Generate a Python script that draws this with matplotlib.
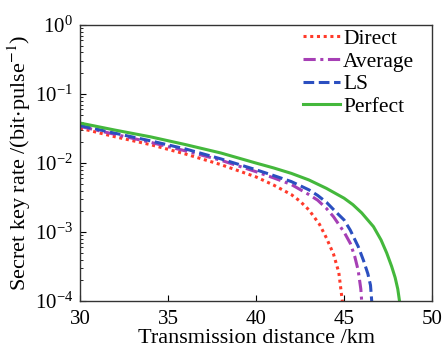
import matplotlib
matplotlib.use("Agg")
import matplotlib.pyplot as plt
import numpy as np

plt.rcParams['font.family'] = ['Liberation Serif', 'DejaVu Serif']
plt.rcParams['mathtext.fontset'] = 'stix'

direct_x = [30, 32, 34, 36, 38, 40, 41, 42, 42.5, 43, 43.6, 44, 44.4, 44.7, 44.9]
direct_y = [0.032, 0.024, 0.0185, 0.0135, 0.0095, 0.0063, 0.0048, 0.0035, 0.0028, 0.0021,
            0.0013, 0.00082, 0.00048, 0.00026, 0.0001]

average_x = [30, 32, 34, 36, 38, 40, 41, 42, 43, 43.5, 44, 44.4, 45, 45.35, 45.6, 45.8, 45.95, 46.0]
average_y = [0.034, 0.026, 0.020, 0.015, 0.011, 0.0075, 0.0061, 0.0049, 0.0035, 0.0029,
             0.0022, 0.00167, 0.0010, 0.00069, 0.00045, 0.00028, 0.00015, 0.0001]

ls_x = [30, 32, 34, 36, 38, 40, 41, 42, 43, 43.5, 44, 44.5, 45, 45.35, 45.8, 46.1, 46.35, 46.5, 46.57]
ls_y = [0.035, 0.027, 0.021, 0.016, 0.0115, 0.0080, 0.0066, 0.0054, 0.0041, 0.0034,
        0.0027, 0.0020, 0.0015, 0.00107, 0.00062, 0.00039, 0.00025, 0.00017, 0.0001]

perfect_x = [30, 32, 34, 36, 38, 40, 41, 42, 43, 44, 45, 45.5, 46, 46.67, 47.1, 47.42,
             47.7, 47.9, 48.05, 48.15]
perfect_y = [0.038, 0.030, 0.024, 0.0185, 0.014, 0.010, 0.0085, 0.0071, 0.0057, 0.0043,
             0.0031, 0.0025, 0.0019, 0.0012, 0.00077, 0.00050, 0.00032, 0.00022, 0.00015, 0.0001]

fig = plt.figure(figsize=(4.45, 3.47), dpi=100)
ax = fig.add_axes([0.18, 0.132, 0.791, 0.796])

ax.plot(direct_x, direct_y, color='#ff3a2a', ls=(0, (1, 1.2)), lw=2.2, label='Direct')
ax.plot(average_x, average_y, color='#a63fb5', ls=(0, (4, 1.5, 1, 1.5)), lw=2.2, label='Average')
ax.plot(ls_x, ls_y, color='#2b4fc0', ls=(0, (3.5, 1.5)), lw=2.2, label='LS')
ax.plot(perfect_x, perfect_y, color='#44b83c', ls='-', lw=2.2, label='Perfect')

ax.set_yscale('log')
ax.set_xlim(30, 50)
ax.set_ylim(1e-4, 1)
ax.set_xticks([30, 35, 40, 45, 50])
ax.tick_params(axis='both', which='both', direction='in', labelsize=15)
ax.tick_params(axis='both', which='major', length=4)
ax.tick_params(axis='x', pad=6)
ax.tick_params(axis='y', pad=5)
ax.set_xlabel('Transmission distance /km', fontsize=16, labelpad=0)
ax.set_ylabel('Secret key rate /(bit$\\cdot$pulse$^{-1}$)', fontsize=16, labelpad=1)
for s in ax.spines.values():
    s.set_linewidth(1.0)
    s.set_color('#333333')

leg = ax.legend(loc='upper right', frameon=False, fontsize=15.5, handlelength=1.7,
                handletextpad=0.15, labelspacing=0.12, borderaxespad=0.1,
                bbox_to_anchor=(0.98, 1.025))

fig.savefig('out.png', dpi=100)
